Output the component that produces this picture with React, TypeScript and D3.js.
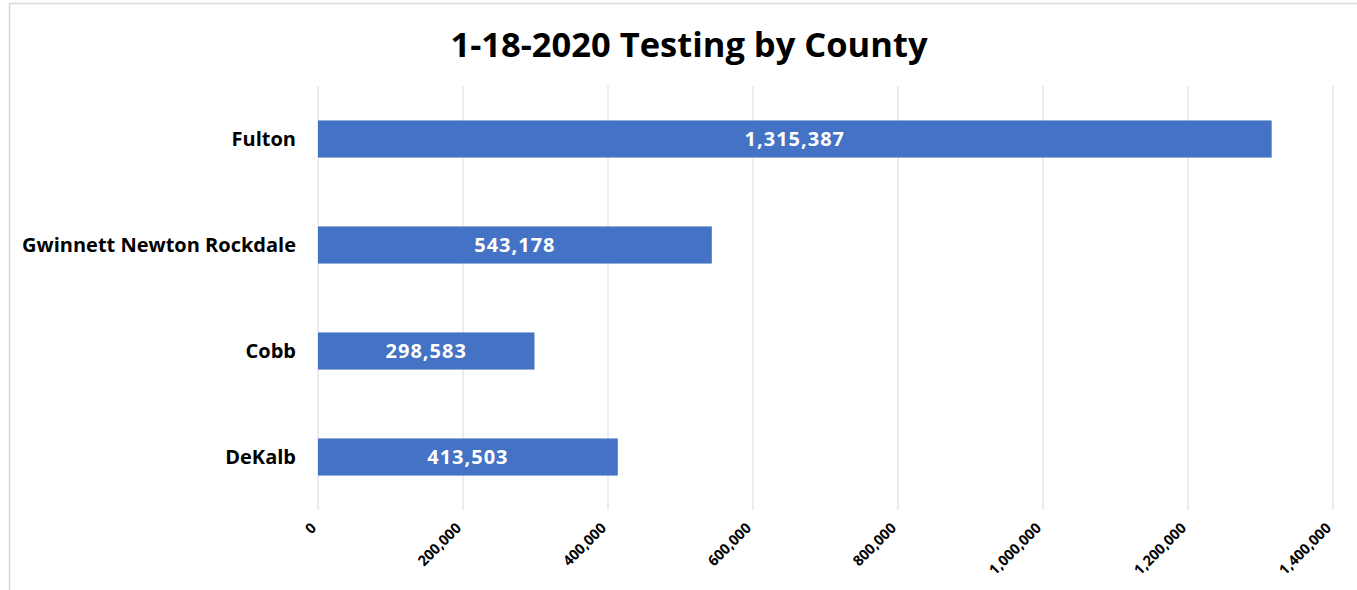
import React from "react";
import * as d3 from "d3";

const categories = ["Fulton", "Gwinnett Newton Rockdale", "Cobb", "DeKalb"];
const values = [1315387, 543178, 298583, 413503];
const tickValues = [0, 200000, 400000, 600000, 800000, 1000000, 1200000, 1400000];
const title = "1-18-2020 Testing by County";

const W = 1357;
const H = 590;
const FONT = "'Open Sans', sans-serif";

export default function App() {
  const x = d3.scaleLinear().domain([0, 1400000]).range([318, 1333]);
  const y = d3.scaleBand().domain(categories).range([86, 510]).paddingInner(0.65).paddingOuter(0.325);
  const fmt = d3.format(",");
  return (
    <svg width={W} height={H} style={{ position: "absolute", left: 0, top: 0, background: "#fff" }}>
      <rect x={0} y={0} width={W} height={H} fill="#fff" />
      <line x1={9.5} x2={9.5} y1={3} y2={590} stroke="#d9d9d9" strokeWidth={1.5} />
      <line x1={9} x2={W} y1={3.5} y2={3.5} stroke="#d9d9d9" strokeWidth={1.5} />
      <text x={689} y={57} textAnchor="middle" fontFamily={FONT} fontWeight="bold" fontSize={34.5} fill="#000">
        {title}
      </text>
      {tickValues.map((t) => (
        <line key={"g" + t} x1={x(t)} x2={x(t)} y1={86} y2={510} stroke="#d9d9d9" strokeWidth={1} />
      ))}
      {categories.map((c, i) => (
        <g key={c}>
          <rect x={x(0)} y={y(c)!} width={x(values[i]) - x(0)} height={y.bandwidth()} fill="#4472C4" />
          <text
            x={(x(0) + x(values[i])) / 2}
            y={y(c)! + y.bandwidth() / 2}
            dy="0.35em"
            textAnchor="middle"
            fontFamily={FONT}
            fontWeight="bold"
            fontSize={20}
            letterSpacing={1}
            fill="#fff"
          >
            {fmt(values[i])}
          </text>
          <text
            x={296}
            y={y(c)! + y.bandwidth() / 2}
            dy="0.35em"
            textAnchor="end"
            fontFamily={FONT}
            fontWeight="bold"
            fontSize={20}
            fill="#000"
          >
            {c}
          </text>
        </g>
      ))}
      {tickValues.map((t) => (
        <text
          key={"t" + t}
          transform={`translate(${x(t) - 1},${529}) rotate(-45)`}
          textAnchor="end"
          fontFamily={FONT}
          fontWeight="bold"
          fontSize={14.5}
          fill="#000"
        >
          {fmt(t)}
        </text>
      ))}
    </svg>
  );
}
